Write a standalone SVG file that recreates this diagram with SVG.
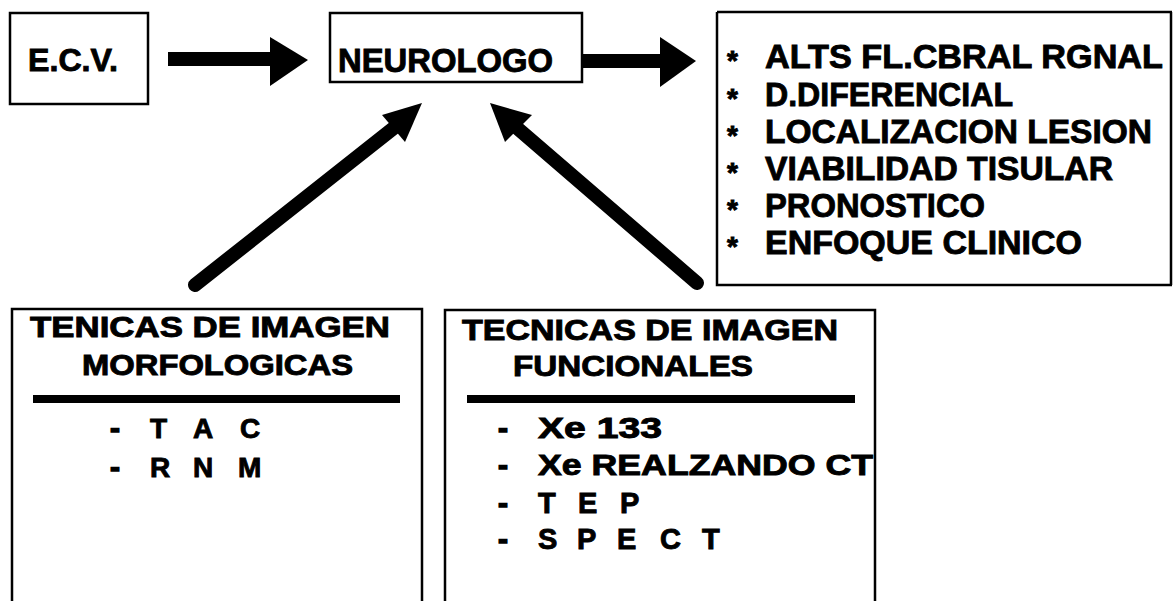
<svg xmlns="http://www.w3.org/2000/svg" width="1173" height="601" viewBox="0 0 1173 601">
<style>
.box{fill:none;stroke:#000;stroke-width:2.5}
.t{font-family:"Liberation Sans",Arial,Helvetica,sans-serif;font-weight:bold;fill:#000;stroke:#000;stroke-width:0.9}
.shaft{stroke:#000;stroke-width:14;fill:none}
.head{fill:#000}
.rule{stroke:#000;stroke-width:8}
.dash{font-size:30px;stroke-width:1.4}
</style>
<rect width="1173" height="601" fill="#fff"/>
<g id="connectors">
  <line class="shaft" x1="168" y1="59" x2="272" y2="59" stroke-width="13"/>
  <polygon class="head" points="270,37 308,60 270,86"/>
  <line class="shaft" x1="583" y1="61" x2="662" y2="61" stroke-width="13"/>
  <polygon class="head" points="660,37 696,61 660,87"/>
  <line class="shaft" x1="195" y1="285" x2="395" y2="127" stroke-linecap="round"/>
  <polygon class="head" points="422,103 382,115 405,142"/>
  <line class="shaft" x1="697" y1="283" x2="516" y2="127" stroke-linecap="round"/>
  <polygon class="head" points="490,103 505,142 532,115"/>
</g>
<g id="ecv">
  <rect class="box" x="10" y="13" width="138" height="91"/>
  <text class="t" x="28" y="71" font-size="32" textLength="90" lengthAdjust="spacingAndGlyphs">E.C.V.</text>
</g>
<g id="neurologo">
  <rect class="box" x="330" y="13" width="252" height="69"/>
  <text class="t" x="338" y="72" font-size="33" textLength="215" lengthAdjust="spacingAndGlyphs">NEUROLOGO</text>
</g>
<g id="resultados">
  <path class="box" d="M717,12 H1172 M717,12 V285 H1172 M1171,12 V285"/>
  <g class="t" font-size="28">
    <text x="727" y="70">*</text>
    <text x="727" y="108">*</text>
    <text x="727" y="145">*</text>
    <text x="727" y="182">*</text>
    <text x="727" y="219">*</text>
    <text x="727" y="256">*</text>
  </g>
  <g class="t" font-size="34">
    <text x="765" y="68" textLength="398" lengthAdjust="spacingAndGlyphs">ALTS FL.CBRAL RGNAL</text>
    <text x="765" y="106" textLength="248" lengthAdjust="spacingAndGlyphs">D.DIFERENCIAL</text>
    <text x="765" y="143" textLength="387" lengthAdjust="spacingAndGlyphs">LOCALIZACION LESION</text>
    <text x="765" y="180" textLength="348" lengthAdjust="spacingAndGlyphs">VIABILIDAD TISULAR</text>
    <text x="765" y="217" textLength="220" lengthAdjust="spacingAndGlyphs">PRONOSTICO</text>
    <text x="765" y="254" textLength="317" lengthAdjust="spacingAndGlyphs">ENFOQUE CLINICO</text>
  </g>
</g>
<g id="morfologicas">
  <path class="box" d="M12,601 V309 H422 V601"/>
  <g class="t" font-size="29">
    <text x="30" y="337" textLength="360" lengthAdjust="spacingAndGlyphs">TENICAS DE IMAGEN</text>
    <text x="82" y="375" textLength="271" lengthAdjust="spacingAndGlyphs">MORFOLOGICAS</text>
  </g>
  <line class="rule" x1="33" y1="399" x2="400" y2="399"/>
  <g class="t" font-size="28">
    <text class="dash" x="110" y="438">-</text>
    <text x="150 193 240" y="438">TAC</text>
    <text class="dash" x="110" y="477">-</text>
    <text x="150 193 238" y="477">RNM</text>
  </g>
</g>
<g id="funcionales">
  <path class="box" d="M445,601 V310 H875 V601"/>
  <g class="t" font-size="29">
    <text x="462" y="340" textLength="376" lengthAdjust="spacingAndGlyphs">TECNICAS DE IMAGEN</text>
    <text x="513" y="376" textLength="240" lengthAdjust="spacingAndGlyphs">FUNCIONALES</text>
  </g>
  <line class="rule" x1="467" y1="399" x2="855" y2="399"/>
  <g class="t" font-size="29">
    <text class="dash" x="498" y="438">-</text>
    <text x="538" y="438" textLength="124" lengthAdjust="spacingAndGlyphs">Xe 133</text>
    <text class="dash" x="498" y="475">-</text>
    <text x="538" y="475" textLength="335" lengthAdjust="spacingAndGlyphs">Xe REALZANDO CT</text>
    <text class="dash" x="498" y="513">-</text>
    <text x="538 578 620" y="513">TEP</text>
    <text class="dash" x="498" y="549">-</text>
    <text x="538 577 617 660 702" y="549">SPECT</text>
  </g>
</g>
</svg>
